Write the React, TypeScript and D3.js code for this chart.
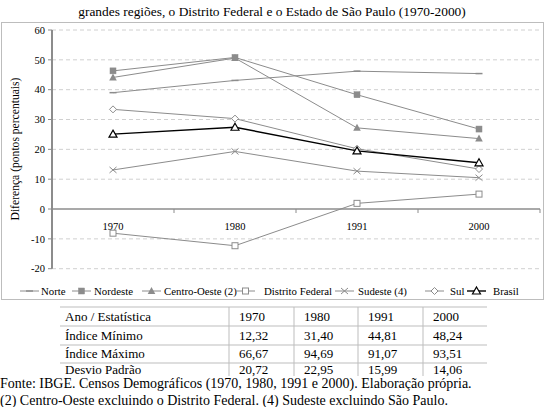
import React from "react";
import * as d3 from "d3";

const categories = ["1970", "1980", "1991", "2000"];
const seriesNames = ["Norte", "Nordeste", "Centro-Oeste (2)", "Distrito Federal", "Sudeste (4)", "Sul", "Brasil"];
const norte = [39.0, 43.1, 46.2, 45.4];
const nordeste = [46.3, 50.8, 38.3, 26.8];
const centroOeste = [44.1, 50.6, 27.2, 23.6];
const distritoFederal = [-8.1, -12.3, 1.9, 5.0];
const sudeste = [13.1, 19.3, 12.7, 10.5];
const sul = [33.4, 30.3, 20.2, 13.4];
const brasil = [25.1, 27.4, 19.5, 15.5];
const yTicks = [-20, -10, 0, 10, 20, 30, 40, 50, 60];

const tableHeader = ["Ano / Estatística", "1970", "1980", "1991", "2000"];
const tableRows = [
  ["Índice Mínimo", "12,32", "31,40", "44,81", "48,24"],
  ["Índice Máximo", "66,67", "94,69", "91,07", "93,51"],
  ["Desvio Padrão", "20,72", "22,95", "15,99", "14,06"],
];

const FONT = '"Liberation Serif", "Times New Roman", Times, serif';
const GRAY = "#8c8c8c";

type MarkerKind = "dash" | "sqFill" | "triFill" | "sqOpen" | "cross" | "diamond" | "triOpen";
const markers: MarkerKind[] = ["dash", "sqFill", "triFill", "sqOpen", "cross", "diamond", "triOpen"];
const values = [norte, nordeste, centroOeste, distritoFederal, sudeste, sul, brasil];

function Marker({ kind, x, y, color }: { kind: MarkerKind; x: number; y: number; color: string }) {
  switch (kind) {
    case "dash":
      return <line x1={x - 3.5} x2={x + 3.5} y1={y} y2={y} stroke={color} strokeWidth={1.5} />;
    case "sqFill":
      return <rect x={x - 3} y={y - 3} width={6} height={6} fill={color} stroke={color} strokeWidth={0.5} />;
    case "triFill":
      return <path d={`M${x},${y - 4}L${x + 3.8},${y + 3}L${x - 3.8},${y + 3}Z`} fill={color} />;
    case "sqOpen":
      return <rect x={x - 3} y={y - 3} width={6} height={6} fill="#fff" stroke={color} strokeWidth={1} />;
    case "cross":
      return (
        <path d={`M${x - 3.5},${y - 3}L${x + 3.5},${y + 3}M${x - 3.5},${y + 3}L${x + 3.5},${y - 3}`} stroke={color} strokeWidth={1} />
      );
    case "diamond":
      return <path d={`M${x},${y - 3.5}L${x + 3.5},${y}L${x},${y + 3.5}L${x - 3.5},${y}Z`} fill="#fff" stroke={color} strokeWidth={1} />;
    case "triOpen":
      return <path d={`M${x},${y - 4}L${x + 4},${y + 3}L${x - 4},${y + 3}Z`} fill="#fff" stroke="#000" strokeWidth={1.2} />;
  }
}

export default function App() {
  const W = 546, H = 407;
  const x0 = 52, x1 = 540;
  const y = d3.scaleLinear().domain([-20, 60]).range([268.7, 30]);
  const band = d3.scaleBand<string>().domain(categories).range([x0, x1]);
  const cx = (c: string) => (band(c) as number) + band.bandwidth() / 2;
  const line = d3.line<number>().x((_, i) => cx(categories[i])).y((v) => y(v));

  const legendItems = [
    { lx: 20, tx: 41 },
    { lx: 72, tx: 94 },
    { lx: 142, tx: 164 },
    { lx: 236, tx: 264 },
    { lx: 335, tx: 358 },
    { lx: 425, tx: 450 },
    { lx: 467, tx: 493 },
  ];

  const colX = [60, 229, 294, 358, 423, 487];
  const rowLines = [307, 326, 345, 363];
  const rowText = [316.5, 335, 353.5, 369.5];

  return (
    <svg width={W} height={H} style={{ position: "absolute", left: 0, top: 0, background: "#fff", fontFamily: FONT }}>
      <rect x={0} y={0} width={W} height={H} fill="#fff" />
      <text x={272} y={11} dy="0.35em" textAnchor="middle" fontSize={13.4}>
        grandes regiões, o Distrito Federal e o Estado de São Paulo (1970-2000)
      </text>
      <rect x={1.5} y={22.5} width={542} height={277} fill="none" stroke="#bdbdbd" strokeWidth={1} />

      {yTicks.filter((t) => t !== 0).map((t) => (
        <line key={t} x1={x0} x2={x1} y1={y(t)} y2={y(t)} stroke="#d0d0d0" strokeWidth={1} strokeDasharray="4,3" />
      ))}
      <line x1={x0} x2={x0} y1={y(60)} y2={y(-20)} stroke={GRAY} strokeWidth={2} />
      {yTicks.map((t) => (
        <g key={t}>
          <line x1={x0 - 4} x2={x0} y1={y(t)} y2={y(t)} stroke={GRAY} strokeWidth={1} />
          <text x={x0 - 7} y={y(t)} dy="0.35em" textAnchor="end" fontSize={10.5}>
            {t}
          </text>
        </g>
      ))}
      <line x1={x0} x2={x1} y1={y(0)} y2={y(0)} stroke={GRAY} strokeWidth={1.5} />
      {categories.map((c) => (
        <line key={c} x1={(band(c) as number) + band.bandwidth()} x2={(band(c) as number) + band.bandwidth()} y1={y(0)} y2={y(0) + 4} stroke={GRAY} strokeWidth={1} />
      ))}
      {categories.map((c) => (
        <text key={c} x={cx(c)} y={226} dy="0.35em" textAnchor="middle" fontSize={10.5}>
          {c}
        </text>
      ))}
      <text transform={`translate(15,149) rotate(-90)`} textAnchor="middle" dy="0.35em" fontSize={11.6}>
        Diferença (pontos percentuais)
      </text>

      {values.map((vals, si) => {
        const color = si === 6 ? "#000" : GRAY;
        return (
          <g key={si}>
            <path d={line(vals) as string} fill="none" stroke={color} strokeWidth={si === 6 ? 1.4 : 1} />
            {vals.map((v, i) => (
              <Marker key={i} kind={markers[si]} x={cx(categories[i])} y={y(v)} color={color} />
            ))}
          </g>
        );
      })}

      {legendItems.map((it, i) => {
        const color = i === 6 ? "#000" : GRAY;
        return (
          <g key={i}>
            <line x1={it.lx} x2={it.lx + 19} y1={291} y2={291} stroke={color} strokeWidth={i === 6 ? 1.4 : 1} />
            <Marker kind={markers[i]} x={it.lx + 9.5} y={291} color={color} />
            <text x={it.tx} y={291} dy="0.35em" fontSize={10.8}>
              {seriesNames[i]}
            </text>
          </g>
        );
      })}

      {rowLines.map((ry) => (
        <line key={ry} x1={colX[0]} x2={colX[5]} y1={ry} y2={ry} stroke="#bdbdbd" strokeWidth={1} />
      ))}
      {colX.slice(1, 5).map((cxv) => (
        <line key={cxv} x1={cxv} x2={cxv} y1={rowLines[0]} y2={376} stroke="#bdbdbd" strokeWidth={1} />
      ))}
      {[tableHeader, ...tableRows].map((row, ri) => (
        <g key={ri}>
          {row.map((cell, ci) => (
            <text key={ci} x={ci === 0 ? 65 : colX[ci] + 10} y={rowText[ri]} dy="0.35em" fontSize={13}>
              {cell}
            </text>
          ))}
        </g>
      ))}
      <text x={0} y={383} dy="0.35em" fontSize={14}>
        Fonte: IBGE. Censos Demográficos (1970, 1980, 1991 e 2000). Elaboração própria.
      </text>
      <text x={0} y={400.5} dy="0.35em" fontSize={14}>
        (2) Centro-Oeste excluindo o Distrito Federal. (4) Sudeste excluindo São Paulo.
      </text>
    </svg>
  );
}
